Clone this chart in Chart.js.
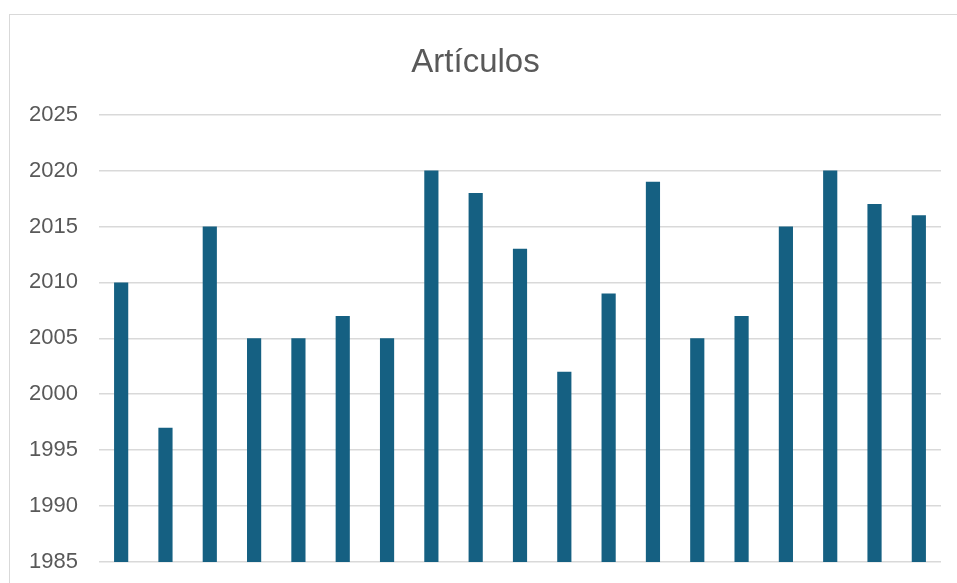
<!DOCTYPE html>
<html lang="es">
<head>
  <meta charset="UTF-8" />
  <title>Artículos</title>
  <script src="https://cdn.jsdelivr.net/npm/chart.js"></script>
  <style>
    body {
      margin: 0;
      background: #fff;
      overflow: hidden;
    }
    .marco {
      position: absolute;
      left: 9px;
      top: 14px;
      width: 957px;
      height: 620px;
      border: 1.5px solid #d9d9d9;
    }
  </style>
</head>
<body>
  <div class="marco">
    <canvas id="grafico" width="957" height="620"></canvas>
  </div>

  <script>
    const categorias = ['1', '2', '3', '4', '5', '6', '7', '8', '9', '10',
                        '11', '12', '13', '14', '15', '16', '17', '18', '19'];
    const anios = [2010, 1997, 2015, 2005, 2005, 2007, 2005, 2020, 2018, 2013,
                   2002, 2009, 2019, 2005, 2007, 2015, 2020, 2017, 2016];
    const ejeMin = 1985;
    const ejeMax = 2025;
    const paso = 5;

    const fuente = "'Liberation Sans', Arial, sans-serif";

    new Chart(document.getElementById('grafico'), {
      type: 'bar',
      data: {
        labels: categorias,
        datasets: [{
          label: 'Artículos',
          data: anios,
          backgroundColor: '#156082',
          barPercentage: 0.32,
          categoryPercentage: 1
        }]
      },
      options: {
        responsive: false,
        animation: false,
        layout: { padding: { left: 0, right: 26, top: 0, bottom: 65 } },
        plugins: {
          legend: { display: false },
          tooltip: { enabled: false },
          title: {
            display: true,
            text: 'Artículos',
            color: '#595959',
            font: { family: fuente, size: 33, weight: 'normal' },
            padding: { top: 28, bottom: 32 }
          }
        },
        scales: {
          x: {
            ticks: { display: false },
            grid: { display: false },
            border: { display: false }
          },
          y: {
            min: ejeMin,
            max: ejeMax,
            ticks: {
              stepSize: paso,
              color: '#595959',
              padding: 21,
              font: { family: fuente, size: 22 },
              callback: (v) => String(v)
            },
            afterFit: (s) => { s.width = 89; },
            grid: { color: '#d9d9d9', lineWidth: 1.5, drawTicks: false },
            border: { display: false }
          }
        }
      }
    });
  </script>
</body>
</html>
